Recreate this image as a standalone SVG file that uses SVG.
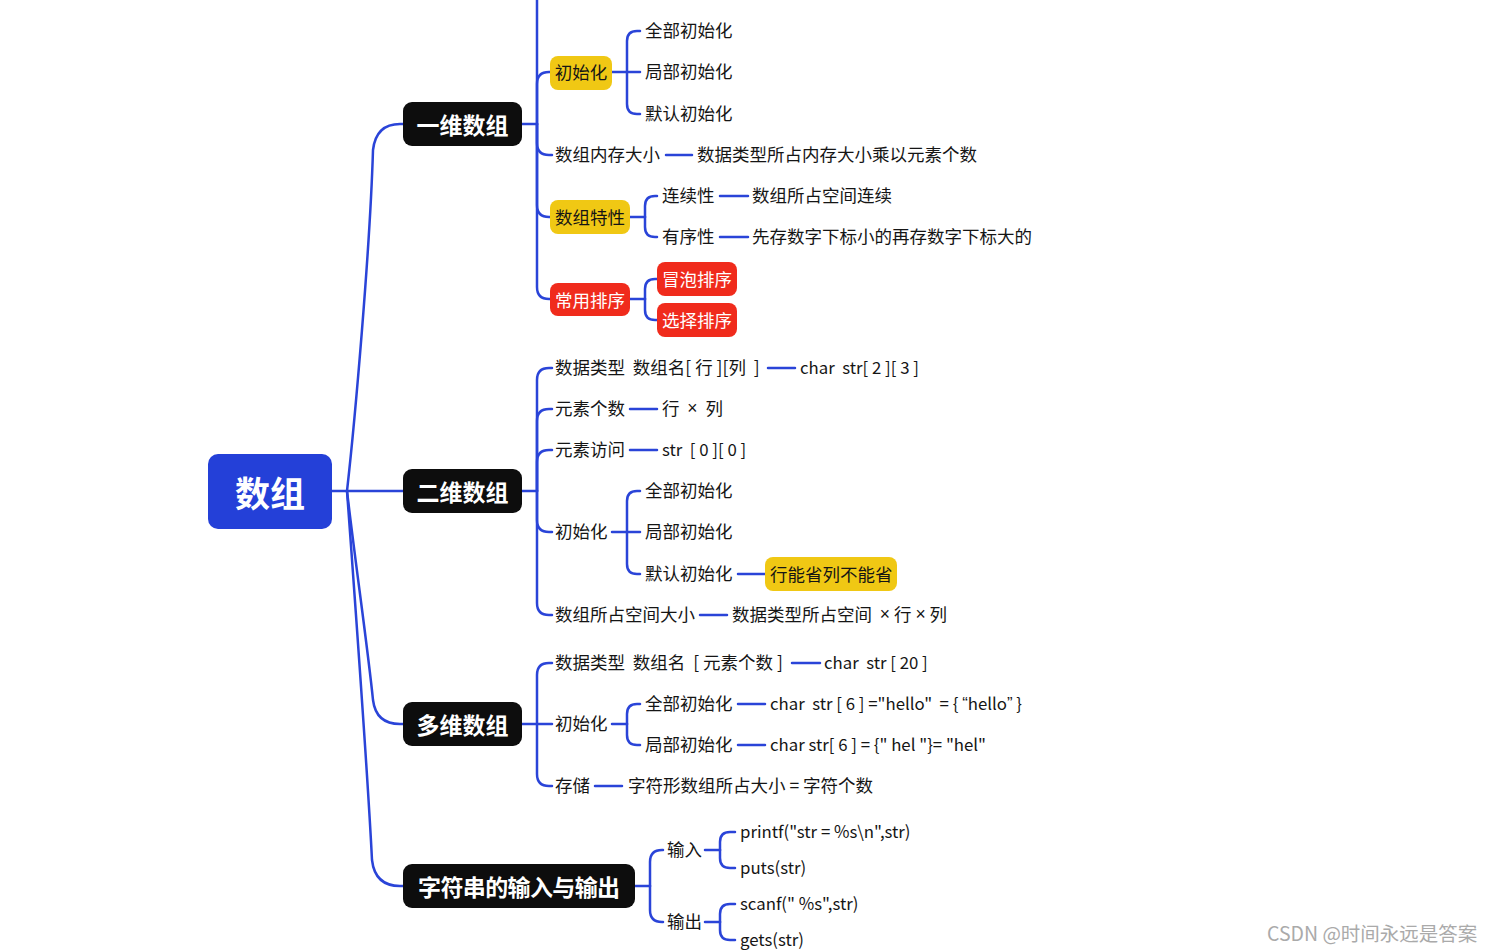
<svg xmlns="http://www.w3.org/2000/svg" width="1493" height="951" viewBox="0 0 1493 951" xml:space="preserve">
<style>
.t{font-family:"Noto Sans CJK SC","Noto Sans",sans-serif;font-size:17.5px;fill:#151515;dominant-baseline:central;white-space:pre;transform:translateY(-1.5px)}
.l{font-size:16.8px}
.x{font-family:"Liberation Sans",sans-serif}
.b{font-family:"Noto Sans CJK SC","Noto Sans",sans-serif;font-weight:bold;font-size:23px;fill:#fff;text-anchor:middle;dominant-baseline:central}
.w{fill:#fff}
.m{text-anchor:middle}
.c{fill:none;stroke:#2a44d8;stroke-width:2.5;stroke-linecap:round}
.blk{fill:#0d0d0d}
.yel{fill:#f0c814}
.red{fill:#f02b1c}
</style>
<rect width="1493" height="951" fill="#fff"/>
<g id="connectors" class="c">
<path d="M332,491 H403"/>
<path d="M347,491 C355,420 370,250 373,150 Q376,124 400,124 H403"/>
<path d="M347,491 C355,560 368,650 373,700 Q376,724 400,724 H403"/>
<path d="M347,491 C355,600 368,780 372,860 Q375,886 400,886 H403"/>
<path d="M522,124 H537"/>
<path d="M537,124 V0"/>
<path d="M537,124 V84 Q537,72 549,72 H550"/>
<path d="M537,124 V143 Q537,155 549,155 H552"/>
<path d="M537,124 V205 Q537,217 549,217 H550"/>
<path d="M537,124 V287 Q537,299 549,299 H550"/>
<path d="M612,72 H640"/>
<path d="M627,72 V41 Q627,31 637,31 H640"/>
<path d="M627,72 V104 Q627,114 637,114 H640"/>
<path d="M666,155 H692"/>
<path d="M630,217 H645"/>
<path d="M645,217 V206 Q645,196 655,196 H657"/>
<path d="M645,217 V227 Q645,237 655,237 H657"/>
<path d="M720,196 H748"/>
<path d="M720,237 H748"/>
<path d="M630,299 H645"/>
<path d="M645,299 V289 Q645,279 655,279 H657"/>
<path d="M645,299 V310 Q645,320 655,320 H657"/>
<path d="M522,491 H537"/>
<path d="M537,491 V380 Q537,368 549,368 H552"/>
<path d="M537,491 V421 Q537,409 549,409 H552"/>
<path d="M537,491 V462 Q537,450 549,450 H552"/>
<path d="M537,491 V520 Q537,532 549,532 H552"/>
<path d="M537,491 V603 Q537,615 549,615 H552"/>
<path d="M768,368 H795"/>
<path d="M630,409 H657"/>
<path d="M630,450 H657"/>
<path d="M700,615 H727"/>
<path d="M612,532 H640"/>
<path d="M627,532 V501 Q627,491 637,491 H640"/>
<path d="M627,532 V564 Q627,574 637,574 H640"/>
<path d="M738,574 H765"/>
<path d="M522,724 H552"/>
<path d="M537,724 V675 Q537,663 549,663 H552"/>
<path d="M537,724 V774 Q537,786 549,786 H552"/>
<path d="M792,663 H820"/>
<path d="M612,724 H627"/>
<path d="M627,724 V714 Q627,704 637,704 H640"/>
<path d="M627,724 V735 Q627,745 637,745 H640"/>
<path d="M738,704 H765"/>
<path d="M738,745 H765"/>
<path d="M595,786 H622"/>
<path d="M635,886 H650"/>
<path d="M650,886 V862 Q650,850 662,850 H663"/>
<path d="M650,886 V910 Q650,922 662,922 H663"/>
<path d="M705,850 H720"/>
<path d="M720,850 V842 Q720,832 730,832 H735"/>
<path d="M720,850 V858 Q720,868 730,868 H735"/>
<path d="M705,922 H720"/>
<path d="M720,922 V914 Q720,904 730,904 H735"/>
<path d="M720,922 V930 Q720,940 730,940 H735"/>
</g>
<g id="root"><rect x="208" y="454" width="124" height="75" rx="10" fill="#2440d8"/><text class="b" x="270" y="491.5" style="font-size:35px">数组</text></g>
<g id="n1"><rect class="blk" x="403" y="102" width="119" height="44" rx="9"/><text class="b" x="462.5" y="124">一维数组</text></g>
<g id="n1-init"><rect class="yel" x="550" y="56" width="62" height="34" rx="8"/><text class="t m" x="581" y="73">初始化</text></g>
<g id="n1-init-all"><text class="t" x="645" y="31">全部初始化</text></g>
<g id="n1-init-part"><text class="t" x="645" y="72">局部初始化</text></g>
<g id="n1-init-def"><text class="t" x="645" y="114">默认初始化</text></g>
<g id="n1-mem"><text class="t" x="555" y="155">数组内存大小</text></g>
<g id="n1-mem-v"><text class="t" x="697" y="155">数据类型所占内存大小乘以元素个数</text></g>
<g id="n1-feat"><rect class="yel" x="550" y="200" width="80" height="34" rx="8"/><text class="t m" x="590" y="218">数组特性</text></g>
<g id="n1-feat-a"><text class="t" x="662" y="196">连续性</text></g>
<g id="n1-feat-a-v"><text class="t" x="752" y="196">数组所占空间连续</text></g>
<g id="n1-feat-b"><text class="t" x="662" y="237">有序性</text></g>
<g id="n1-feat-b-v"><text class="t" x="752" y="237">先存数字下标小的再存数字下标大的</text></g>
<g id="n1-sort"><rect class="red" x="550" y="283" width="80" height="33" rx="8"/><text class="t m w" x="590" y="300.5">常用排序</text></g>
<g id="n1-sort-a"><rect class="red" x="657" y="262" width="80" height="34" rx="8"/><text class="t m w" x="697" y="280">冒泡排序</text></g>
<g id="n1-sort-b"><rect class="red" x="657" y="303" width="80" height="34" rx="8"/><text class="t m w" x="697" y="321">选择排序</text></g>
<g id="n2"><rect class="blk" x="403" y="469" width="119" height="44" rx="9"/><text class="b" x="462.5" y="491">二维数组</text></g>
<g id="n2-def"><text class="t" x="555" y="368">数据类型  数组名[ 行 ][列  ]</text></g>
<g id="n2-def-v"><text class="t l" x="800" y="368">char  str[ 2 ][ 3 ]</text></g>
<g id="n2-cnt"><text class="t" x="555" y="409">元素个数</text></g>
<g id="n2-cnt-v"><text class="t" x="662" y="409">行  <tspan class="x">×</tspan>  列</text></g>
<g id="n2-acc"><text class="t" x="555" y="450">元素访问</text></g>
<g id="n2-acc-v"><text class="t l" x="662" y="450">str  [ 0 ][ 0 ]</text></g>
<g id="n2-init"><text class="t" x="555" y="532">初始化</text></g>
<g id="n2-init-all"><text class="t" x="645" y="491">全部初始化</text></g>
<g id="n2-init-part"><text class="t" x="645" y="532">局部初始化</text></g>
<g id="n2-init-def"><text class="t" x="645" y="574">默认初始化</text></g>
<g id="n2-init-def-v"><rect class="yel" x="765" y="557" width="132" height="34" rx="8"/><text class="t" x="770" y="575">行能省列不能省</text></g>
<g id="n2-size"><text class="t" x="555" y="615">数组所占空间大小</text></g>
<g id="n2-size-v"><text class="t" x="732" y="615">数据类型所占空间  <tspan class="x">×</tspan> 行 <tspan class="x">×</tspan> 列</text></g>
<g id="n3"><rect class="blk" x="403" y="702" width="119" height="44" rx="9"/><text class="b" x="462.5" y="724">多维数组</text></g>
<g id="n3-def"><text class="t" x="555" y="663">数据类型  数组名  [ 元素个数 ]</text></g>
<g id="n3-def-v"><text class="t l" x="824" y="663">char  str [ 20 ]</text></g>
<g id="n3-init"><text class="t" x="555" y="724">初始化</text></g>
<g id="n3-init-all"><text class="t" x="645" y="704">全部初始化</text></g>
<g id="n3-init-all-v"><text class="t l" x="770" y="704">char  str [ 6 ] ="hello"  = { <tspan class="x">“</tspan>hello<tspan class="x">”</tspan> }</text></g>
<g id="n3-init-part"><text class="t" x="645" y="745">局部初始化</text></g>
<g id="n3-init-part-v"><text class="t l" x="770" y="745">char str[ 6 ] = {" hel "}= "hel"</text></g>
<g id="n3-store"><text class="t" x="555" y="786">存储</text></g>
<g id="n3-store-v"><text class="t" x="628" y="786">字符形数组所占大小 = 字符个数</text></g>
<g id="n4"><rect class="blk" x="403" y="864" width="232" height="44" rx="9"/><text class="b" x="519" y="886" textLength="202" lengthAdjust="spacing">字符串的输入与输出</text></g>
<g id="n4-in"><text class="t" x="667" y="850">输入</text></g>
<g id="n4-in-a"><text class="t l" x="740" y="832">printf("str = %s\n",str)</text></g>
<g id="n4-in-b"><text class="t l" x="740" y="868">puts(str)</text></g>
<g id="n4-out"><text class="t" x="667" y="922">输出</text></g>
<g id="n4-out-a"><text class="t l" x="740" y="904">scanf(" %s",str)</text></g>
<g id="n4-out-b"><text class="t l" x="740" y="940">gets(str)</text></g>
<text x="1267" y="932" style="font-family:'Noto Sans CJK SC',sans-serif;font-size:19.5px;fill:#aaa;dominant-baseline:central">CSDN @时间永远是答案</text>
</svg>
